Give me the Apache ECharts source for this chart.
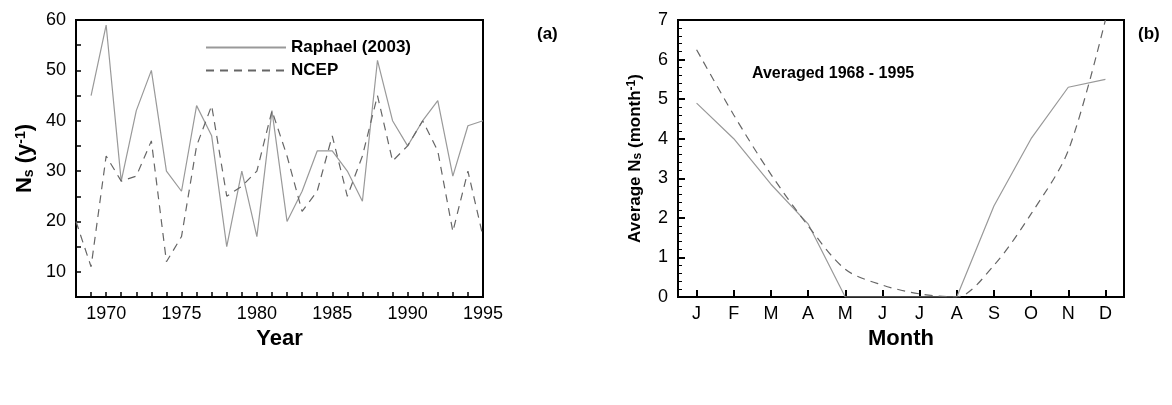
<!DOCTYPE html>
<html><head><meta charset="utf-8">
<script src="https://cdn.jsdelivr.net/npm/echarts@6/dist/echarts.min.js"></script>
<style>html,body{margin:0;background:#fff}#c{width:1172px;height:405px}</style>
</head><body><div id="c"></div>
<script>
const years = [1968,1969,1970,1971,1972,1973,1974,1975,1976,1977,1978,1979,1980,1981,1982,1983,1984,1985,1986,1987,1988,1989,1990,1991,1992,1993,1994,1995]
const raphaelYear = [null,45,59,28,42,50,30,26,43,37,15,30,17,42,20,26,34,34,30,24,52,40,35,40,44,29,39,40]
const ncepYear = [20,11,33,28,29,36,12,17,35,43,25,27,30,42,33,22,26,37,25,33,45,32,35,40,34,18,30,17]
const months = ['J','F','M','A','M','J','J','A','S','O','N','D']
const raphaelMonth = [4.9,4.0,2.85,1.85,0,0,0,0,2.3,4.0,5.3,5.5]
const ncepMonth = [6.25,4.6,3.1,1.8,0.7,0.3,0.08,0,0.8,2.1,3.7,7.0]

const chart = echarts.init(document.getElementById('c'))
const font = 'Liberation Sans'
const lab = { color: '#000', fontSize: 18, fontFamily: font }
const axLine = { show: true, onZero: false, lineStyle: { color: '#000', width: 2 } }
const tick = { show: true, inside: true, length: 7, lineStyle: { color: '#000', width: 2 } }
const minor = { show: true, splitNumber: 5, length: 4, lineStyle: { color: '#000' } }
const pair = (xs, ys) => xs.map((x, i) => [x, ys[i]])
const titleStyle = { fontFamily: font, fontSize: 22, fontWeight: 'bold', color: '#000' }

chart.setOption({
    animation: false,
    grid: [
        { left: 76, top: 20, width: 407, height: 277, show: true, borderColor: '#000', borderWidth: 2 },
        { left: 678, top: 20, width: 446, height: 277, show: true, borderColor: '#000', borderWidth: 2 }
    ],
    legend: {
        left: 200, top: 34, orient: 'vertical', itemWidth: 80, itemGap: 6,
        itemStyle: { opacity: 0 },
        textStyle: { fontFamily: font, fontSize: 17, fontWeight: 'bold', color: '#000' },
        data: ['Raphael (2003)', 'NCEP']
    },
    xAxis: [
        { gridIndex: 0, type: 'value', min: 1968, max: 1995, interval: 1,
          axisLabel: Object.assign({ margin: 8, showMinLabel: false,
            formatter: v => v % 5 === 0 ? v : '' }, lab),
          axisLine: axLine,
          axisTick: { show: true, inside: true, length: 5, lineStyle: { color: '#000', width: 1.5 } },
          splitLine: { show: false },
          name: 'Year', nameLocation: 'middle', nameGap: 30, nameTextStyle: titleStyle },
        { gridIndex: 1, type: 'category', data: months, boundaryGap: true,
          axisLabel: Object.assign({ margin: 8 }, lab),
          axisLine: axLine, axisTick: Object.assign({ alignWithLabel: true }, tick), splitLine: { show: false },
          name: 'Month', nameLocation: 'middle', nameGap: 30, nameTextStyle: titleStyle }
    ],
    yAxis: [
        { gridIndex: 0, type: 'value', min: 5, max: 60, interval: 5,
          axisLabel: Object.assign({ margin: 10, formatter: v => v % 10 === 0 ? v : '' }, lab),
          axisLine: axLine,
          axisTick: { show: true, inside: true, length: 5, lineStyle: { color: '#000', width: 1.5 } },
          splitLine: { show: false },
          name: '{b|N}{s|s}{b| (y}{u|-1}{b|)}', nameLocation: 'middle', nameGap: 40,
          nameTextStyle: { rich: {
            b: titleStyle,
            s: { fontFamily: font, fontSize: 14, fontWeight: 'bold', color: '#000', verticalAlign: 'bottom', padding: [8,0,0,0] },
            u: { fontFamily: font, fontSize: 14, fontWeight: 'bold', color: '#000', verticalAlign: 'top' } } } },
        { gridIndex: 1, type: 'value', min: 0, max: 7, interval: 1,
          axisLabel: Object.assign({ margin: 10 }, lab),
          axisLine: axLine, axisTick: tick, minorTick: minor, splitLine: { show: false },
          name: '{b|Average N}{s|s}{b| (month}{u|-1}{b|)}', nameLocation: 'middle', nameGap: 34,
          nameTextStyle: { rich: {
            b: { fontFamily: font, fontSize: 17, fontWeight: 'bold', color: '#000' },
            s: { fontFamily: font, fontSize: 12, fontWeight: 'bold', color: '#000', verticalAlign: 'bottom', padding: [6,0,0,0] },
            u: { fontFamily: font, fontSize: 12, fontWeight: 'bold', color: '#000', verticalAlign: 'top' } } } }
    ],
    graphic: [
        { type: 'text', left: 537, top: 26, style: { text: '(a)', font: 'bold 17px Liberation Sans', fill: '#000' } },
        { type: 'text', left: 1138, top: 26, style: { text: '(b)', font: 'bold 17px Liberation Sans', fill: '#000' } },
        { type: 'text', left: 752, top: 66, style: { text: 'Averaged 1968 - 1995', font: 'bold 16px Liberation Sans', fill: '#000' } }
    ],
    series: [
        { name: 'Raphael (2003)', type: 'line', xAxisIndex: 0, yAxisIndex: 0, symbol: 'none',
          data: pair(years, raphaelYear), lineStyle: { color: '#999', width: 1.2 }, itemStyle: { color: '#999' } },
        { name: 'NCEP', type: 'line', xAxisIndex: 0, yAxisIndex: 0, symbol: 'none',
          data: pair(years, ncepYear), lineStyle: { color: '#666', width: 1.2, type: [8, 6] }, itemStyle: { color: '#666' } },
        { name: 'Raphael month', type: 'line', xAxisIndex: 1, yAxisIndex: 1, symbol: 'none',
          data: raphaelMonth, lineStyle: { color: '#999', width: 1.2 } },
        { name: 'NCEP month', type: 'line', xAxisIndex: 1, yAxisIndex: 1, symbol: 'none', smooth: 0.3,
          data: ncepMonth, lineStyle: { color: '#666', width: 1.2, type: [8, 6] } }
    ]
})
</script></body></html>
